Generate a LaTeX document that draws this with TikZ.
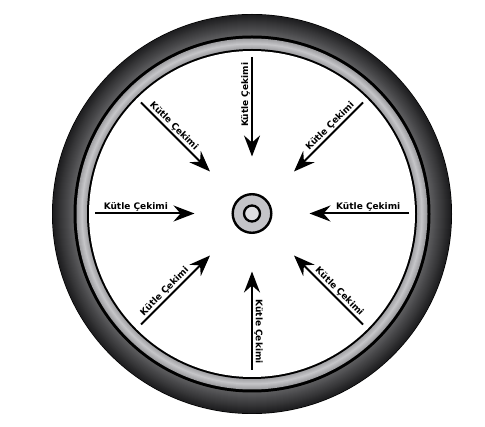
\documentclass[tikz,border=0pt]{standalone}
\usepackage{fontspec}
\newfontfamily\lblfont{DejaVu Sans}
\usetikzlibrary{arrows.meta,calc}
\definecolor{bandedge}{RGB}{160,160,163}
\definecolor{bandmid}{RGB}{198,198,201}
\definecolor{tireinner}{RGB}{92,92,94}
\definecolor{tireouter}{RGB}{30,30,32}
\definecolor{hubouter}{RGB}{196,196,200}
\definecolor{hubinner}{RGB}{222,222,225}
\begin{document}
\begin{tikzpicture}[x=1pt,y=-1pt,
  force/.style={line width=2pt,-{Stealth[length=21pt,width=16pt,inset=7pt]}},
  lbl/.style={font=\lblfont\bfseries\fontsize{9}{10}\selectfont,anchor=south,inner sep=2pt}]
\useasboundingbox (0,0) rectangle (485,427);
\coordinate (C) at (252,214);
% tyre
\fill[black] (C) circle[radius=200pt];
\foreach \i in {0,...,20}{%
  \pgfmathsetmacro\rr{199.3-\i}%
  \pgfmathsetmacro\pc{100*\i/20}%
  \fill[tireinner!\pc!tireouter] (C) circle[radius=\rr pt];}
\fill[black] (C) circle[radius=178.5pt];
\foreach \i in {0,...,10}{%
  \pgfmathsetmacro\rr{175.5-\i}%
  \pgfmathsetmacro\pc{100*(1-abs(\i-5)/5)}%
  \fill[bandmid!\pc!bandedge] (C) circle[radius=\rr pt];}
\fill[black] (C) circle[radius=165pt];
\fill[white] (C) circle[radius=163pt];
% hub
\node[circle,draw,line width=2.4pt,fill=hubouter,minimum size=38.6pt,inner sep=0pt] (hub) at (252,213.5) {};
\node[circle,draw,line width=2.3pt,fill=hubinner,minimum size=16pt,inner sep=0pt] (hubc) at (252,213.5) {};
% arrow end points
\coordinate (tT) at (252,57);   \coordinate (hT) at (252,156.5);
\coordinate (tB) at (252,370);  \coordinate (hB) at (252,271.5);
\coordinate (tL) at (95,213.5); \coordinate (hL) at (194.5,213.5);
\coordinate (tR) at (409,213.5);\coordinate (hR) at (309.5,213.5);
\coordinate (tTL) at (141,102.5); \coordinate (hTL) at (210,171.5);
\coordinate (tTR) at (363,102.5); \coordinate (hTR) at (294,171.5);
\coordinate (tBL) at (141,324.5); \coordinate (hBL) at (210,255.5);
\coordinate (tBR) at (363,324.5); \coordinate (hBR) at (294,255.5);
% arrows
\draw[force] (tT) -- (hT);
\draw[force] (tB) -- (hB);
\draw[force] (tL) -- (hL);
\draw[force] (tR) -- (hR);
\draw[force] (tTL) -- (hTL);
\draw[force] (tTR) -- (hTR);
\draw[force] (tBL) -- (hBL);
\draw[force] (tBR) -- (hBR);
% labels
\node[lbl,rotate=90] (lT) at ($(tT)!0.38!(hT)$) {Kütle Çekimi};
\node[lbl,rotate=-90] (lB) at ($(tB)!0.39!(hB)$) {Kütle Çekimi};
\node[lbl] (lL) at ($(tL)!0.41!(hL)$) {Kütle Çekimi};
\node[lbl] (lR) at ($(tR)!0.41!(hR)$) {Kütle Çekimi};
\node[lbl,rotate=-45] (lTL) at ($(tTL)!0.41!(hTL)$) {Kütle Çekimi};
\node[lbl,rotate=45] (lTR) at ($(tTR)!0.41!(hTR)$) {Kütle Çekimi};
\node[lbl,rotate=45] (lBL) at ($(tBL)!0.41!(hBL)$) {Kütle Çekimi};
\node[lbl,rotate=-45] (lBR) at ($(tBR)!0.41!(hBR)$) {Kütle Çekimi};
\end{tikzpicture}
\end{document}
